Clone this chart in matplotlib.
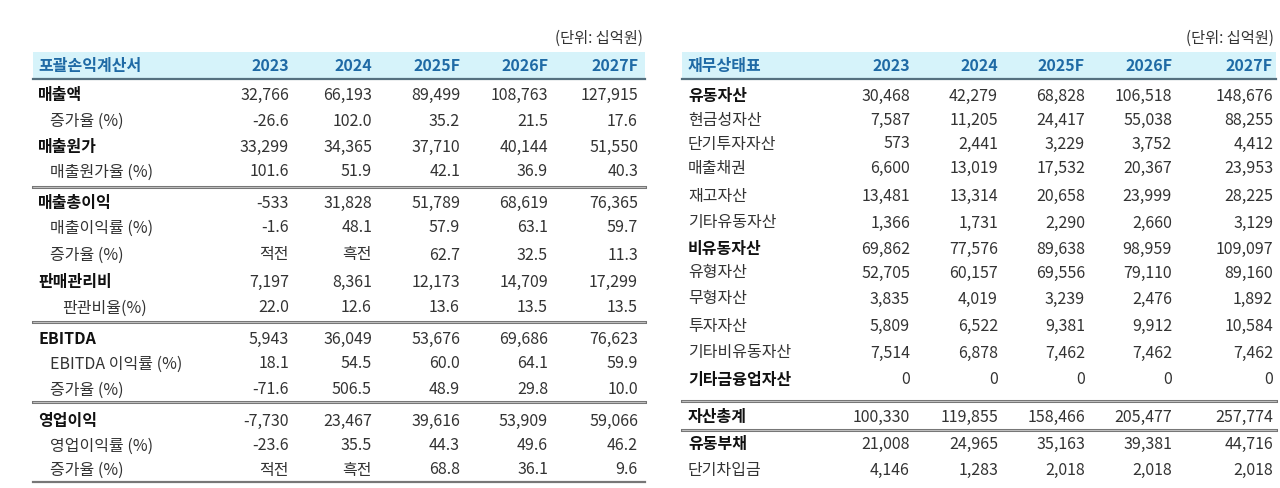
import matplotlib
matplotlib.use("Agg")
import matplotlib.pyplot as plt

plt.rcParams["font.family"] = ["Noto Sans CJK KR", "DejaVu Sans"]

years = ["2023", "2024", "2025F", "2026F", "2027F"]
unit = "(단위: 십억원)"

left_title = "포괄손익계산서"
left_labels = ["매출액", "증가율 (%)", "매출원가", "매출원가율 (%)", "매출총이익", "매출이익률 (%)", "증가율 (%)",
               "판매관리비", "판관비율(%)", "EBITDA", "EBITDA 이익률 (%)", "증가율 (%)",
               "영업이익", "영업이익률 (%)", "증가율 (%)"]
left_bold = [1, 0, 1, 0, 1, 0, 0, 1, 0, 1, 0, 0, 1, 0, 0]
left_indent = [0, 1, 0, 1, 0, 1, 1, 0, 2, 0, 1, 1, 0, 1, 1]
left_values = [
    ["32,766", "66,193", "89,499", "108,763", "127,915"],
    ["-26.6", "102.0", "35.2", "21.5", "17.6"],
    ["33,299", "34,365", "37,710", "40,144", "51,550"],
    ["101.6", "51.9", "42.1", "36.9", "40.3"],
    ["-533", "31,828", "51,789", "68,619", "76,365"],
    ["-1.6", "48.1", "57.9", "63.1", "59.7"],
    ["적전", "흑전", "62.7", "32.5", "11.3"],
    ["7,197", "8,361", "12,173", "14,709", "17,299"],
    ["22.0", "12.6", "13.6", "13.5", "13.5"],
    ["5,943", "36,049", "53,676", "69,686", "76,623"],
    ["18.1", "54.5", "60.0", "64.1", "59.9"],
    ["-71.6", "506.5", "48.9", "29.8", "10.0"],
    ["-7,730", "23,467", "39,616", "53,909", "59,066"],
    ["-23.6", "35.5", "44.3", "49.6", "46.2"],
    ["적전", "흑전", "68.8", "36.1", "9.6"],
]

right_title = "재무상태표"
right_labels = ["유동자산", "현금성자산", "단기투자자산", "매출채권", "재고자산", "기타유동자산", "비유동자산",
                "유형자산", "무형자산", "투자자산", "기타비유동자산", "기타금융업자산", "자산총계", "유동부채", "단기차입금"]
right_bold = [1, 0, 0, 0, 0, 0, 1, 0, 0, 0, 0, 1, 1, 1, 0]
right_values = [
    ["30,468", "42,279", "68,828", "106,518", "148,676"],
    ["7,587", "11,205", "24,417", "55,038", "88,255"],
    ["573", "2,441", "3,229", "3,752", "4,412"],
    ["6,600", "13,019", "17,532", "20,367", "23,953"],
    ["13,481", "13,314", "20,658", "23,999", "28,225"],
    ["1,366", "1,731", "2,290", "2,660", "3,129"],
    ["69,862", "77,576", "89,638", "98,959", "109,097"],
    ["52,705", "60,157", "69,556", "79,110", "89,160"],
    ["3,835", "4,019", "3,239", "2,476", "1,892"],
    ["5,809", "6,522", "9,381", "9,912", "10,584"],
    ["7,514", "6,878", "7,462", "7,462", "7,462"],
    ["0", "0", "0", "0", "0"],
    ["100,330", "119,855", "158,466", "205,477", "257,774"],
    ["21,008", "24,965", "35,163", "39,381", "44,716"],
    ["4,146", "1,283", "2,018", "2,018", "2,018"],
]

fig = plt.figure(figsize=(12.8, 4.89), dpi=100)
ax = fig.add_axes([0, 0, 1, 1])
ax.set_xlim(0, 1280)
ax.set_ylim(489, 0)
ax.axis("off")

FS = 11.5
TXT = "#333333"
HDR = "#1f6aa5"
BAND = "#d6f3fa"

left_y = [95, 121, 147, 172, 203, 228, 255, 282, 308, 339, 364, 390, 421, 446, 470]
left_lines = [188, 323, 403]
right_y = [96, 120, 144, 168, 196, 223, 249, 273, 299, 326, 353, 380, 417, 444, 470]
right_lines = [402, 431]


def draw_table(x0, x1, lx, cols, title, labels, bold, indent, values, ys, lines, bottom):
    ax.text(x1 - 2, 38, unit, ha="right", va="center", fontsize=FS - 0.5, color=TXT)
    ax.fill_between([x0, x1], 53, 79, color=BAND, lw=0)
    ax.plot([x0, x1], [80, 80], color="#55707f", lw=1.6)
    ax.text(lx, 66, title, ha="left", va="center", fontsize=FS, color=HDR, fontweight="bold")
    for c, yr in zip(cols, years):
        ax.text(c, 66, yr, ha="right", va="center", fontsize=FS, color=HDR, fontweight="bold")
    for i, lab in enumerate(labels):
        ax.text(lx + 12 * indent[i], ys[i], lab, ha="left", va="center", fontsize=FS,
                color="#111111" if bold[i] else TXT, fontweight="bold" if bold[i] else "normal")
        for c, v in zip(cols, values[i]):
            ax.text(c, ys[i], v, ha="right", va="center", fontsize=FS, color=TXT)
    for ly in lines:
        ax.plot([x0, x1], [ly, ly], color="#777777", lw=2.2)
        ax.plot([x0, x1], [ly, ly], color="#dddddd", lw=0.5)
    if bottom:
        ax.plot([x0, x1], [483, 483], color="#777777", lw=1.6)


draw_table(33, 645, 38, [289, 372, 460, 548, 638], left_title, left_labels, left_bold,
           left_indent, left_values, left_y, left_lines, True)
draw_table(682, 1276, 688, [910, 998, 1085, 1172, 1273], right_title, right_labels, right_bold,
           [0] * len(right_labels), right_values, right_y, right_lines, False)

fig.savefig("out.png", dpi=100)
